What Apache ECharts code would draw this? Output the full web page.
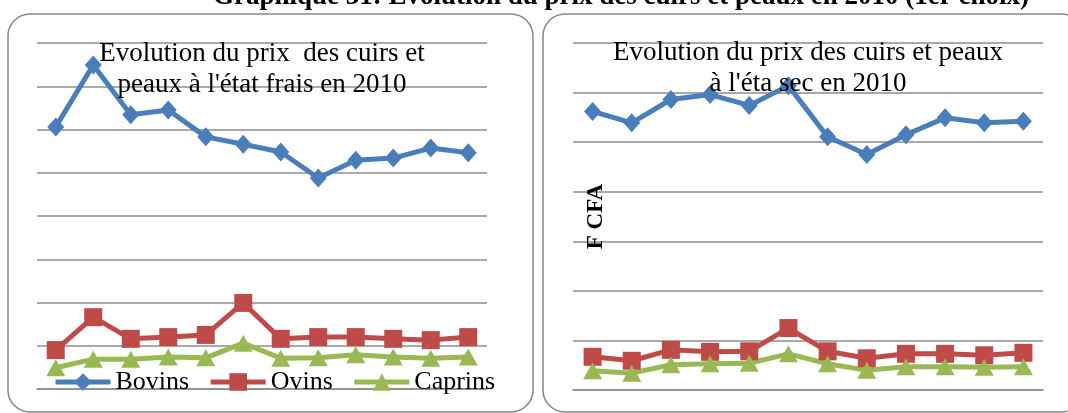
<!DOCTYPE html>
<html>
<head>
<meta charset="utf-8">
<script src="https://cdn.jsdelivr.net/npm/echarts@6/dist/echarts.min.js"></script>
<style>
  html, body { margin: 0; padding: 0; background: #fff; }
  #chart { width: 1068px; height: 413px; }
</style>
</head>
<body>
<div id="chart"></div>
<script>
// mois de 2010 (étiquettes non affichées sur le graphique)
var mois = ['Janvier', 'Février', 'Mars', 'Avril', 'Mai', 'Juin', 'Juillet', 'Août', 'Septembre', 'Octobre', 'Novembre', 'Décembre'];

// état frais (F CFA)
var fraisBovins  = [3030, 3745, 3170, 3225, 2915, 2830, 2740, 2440, 2645, 2670, 2785, 2730];
var fraisOvins   = [450, 830, 580, 600, 625, 995, 580, 600, 600, 580, 565, 600];
var fraisCaprins = [245, 345, 345, 370, 360, 530, 355, 360, 395, 370, 355, 370];

// état sec (F CFA)
var secBovins  = [2810, 2695, 2930, 2980, 2870, 3070, 2555, 2375, 2575, 2745, 2695, 2710];
var secOvins   = [335, 295, 405, 385, 390, 625, 390, 320, 365, 365, 350, 375];
var secCaprins = [195, 170, 255, 265, 270, 365, 265, 200, 235, 235, 230, 235];

var serif = '"Liberation Serif", "DejaVu Serif", serif';
var gridColor = '#8c8c8c';
var colors = { Bovins: '#4a7ebb', Ovins: '#be4b48', Caprins: '#98b954' };
var symbols = { Bovins: ['diamond', [17, 19]], Ovins: ['rect', 18], Caprins: ['triangle', [19, 17]] };

function serie(name, data, idx) {
  return {
    name: name,
    type: 'line',
    xAxisIndex: idx,
    yAxisIndex: idx,
    data: data,
    symbol: symbols[name][0],
    symbolSize: symbols[name][1],
    lineStyle: { width: 5, color: colors[name] },
    itemStyle: { color: colors[name] },
    animation: false
  };
}

function yAxe(idx, max, name) {
  return {
    gridIndex: idx,
    type: 'value',
    min: 0,
    max: max,
    interval: 500,
    name: name,
    nameLocation: 'middle',
    nameRotate: 90,
    nameGap: -35,
    nameTextStyle: { fontFamily: serif, fontWeight: 'bold', fontSize: 23, color: '#000' },
    axisLabel: { show: false },
    axisTick: { show: false },
    axisLine: { show: false },
    splitLine: { lineStyle: { color: gridColor, width: 1.5 } }
  };
}

function xAxe(idx) {
  return {
    gridIndex: idx,
    type: 'category',
    data: mois,
    axisLabel: { show: false },
    axisTick: { show: false },
    axisLine: { lineStyle: { color: gridColor, width: 1.5 } }
  };
}

var chart = echarts.init(document.getElementById('chart'));
chart.setOption({
  backgroundColor: '#fff',
  animation: false,
  graphic: [
    { type: 'rect', shape: { x: 8, y: 14, width: 525, height: 398, r: 22 },
      style: { fill: 'none', stroke: '#868686', lineWidth: 1.5 }, z: -1 },
    { type: 'rect', shape: { x: 543, y: 14, width: 540, height: 398, r: 22 },
      style: { fill: 'none', stroke: '#868686', lineWidth: 1.5 }, z: -1 },
    { type: 'text', x: 621, y: 11,
      style: { text: 'Graphique 31: Evolution du prix des cuirs et peaux en 2010 (1er choix)',
        font: 'bold 27px ' + serif, fill: '#000', textAlign: 'center', textVerticalAlign: 'bottom' } }
  ],
  title: [
    { text: "Evolution du prix  des cuirs et\npeaux à l'état frais en 2010", left: 262, top: 38, padding: 0,
      textAlign: 'center',
      textStyle: { fontFamily: serif, fontWeight: 'normal', fontSize: 27, lineHeight: 31, color: '#000' } },
    { text: "Evolution du prix des cuirs et peaux\nà l'éta sec en 2010", left: 808, top: 37, padding: 0,
      textAlign: 'center',
      textStyle: { fontFamily: serif, fontWeight: 'normal', fontSize: 27, lineHeight: 31, color: '#000' } }
  ],
  legend: {
    data: ['Bovins', 'Ovins', 'Caprins'],
    left: 53,
    top: 369,
    padding: 0,
    itemWidth: 55,
    itemHeight: 22,
    itemGap: 19,
    lineStyle: { width: 5 },
    textStyle: { fontFamily: serif, fontSize: 26, color: '#000', padding: [0, 0, 0, 0] }
  },
  grid: [
    { left: 37, right: 581, top: 43, bottom: 24 },
    { left: 573, right: 25, top: 43, bottom: 23 }
  ],
  xAxis: [xAxe(0), xAxe(1)],
  yAxis: [yAxe(0, 4000, ''), yAxe(1, 3500, 'F CFA')],
  series: [
    serie('Bovins', fraisBovins, 0),
    serie('Ovins', fraisOvins, 0),
    serie('Caprins', fraisCaprins, 0),
    serie('Bovins', secBovins, 1),
    serie('Ovins', secOvins, 1),
    serie('Caprins', secCaprins, 1)
  ]
});
</script>
</body>
</html>
